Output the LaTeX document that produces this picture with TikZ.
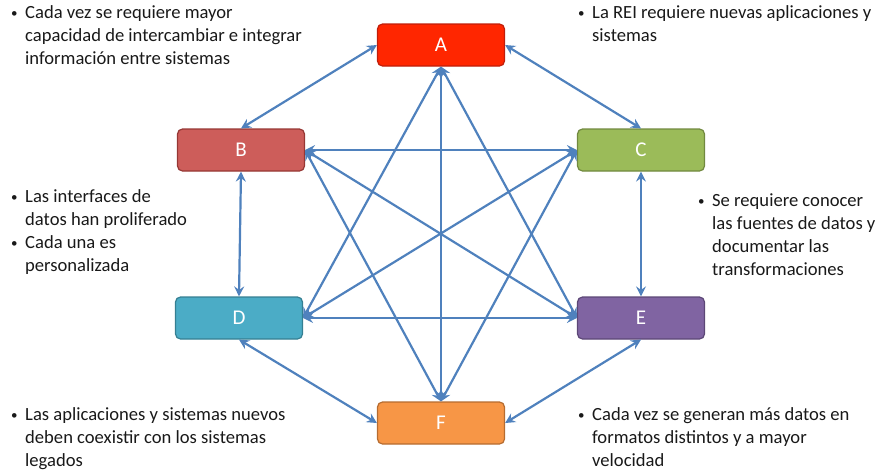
\documentclass[tikz,border=0pt]{standalone}
\usepackage{fontspec}
\setmainfont{Carlito}
\usetikzlibrary{arrows.meta}
\definecolor{lnk}{RGB}{79,129,189}
\definecolor{cA}{RGB}{255,38,0}\definecolor{bA}{RGB}{192,30,10}
\definecolor{cB}{RGB}{205,93,90}\definecolor{bB}{RGB}{150,55,52}
\definecolor{cC}{RGB}{155,187,89}\definecolor{bC}{RGB}{113,137,63}
\definecolor{cD}{RGB}{75,172,198}\definecolor{bD}{RGB}{53,127,146}
\definecolor{cE}{RGB}{128,100,162}\definecolor{bE}{RGB}{92,71,118}
\definecolor{cF}{RGB}{247,150,70}\definecolor{bF}{RGB}{182,108,48}
\newcommand{\bl}{\makebox[14pt][l]{\raisebox{1pt}{\fontsize{13}{13}\selectfont•}}}
\newcommand{\ct}{\hspace*{14pt}}
\begin{document}
\begin{tikzpicture}[x=1pt,y=-1pt,
  box/.style={draw=#1, line width=1.2pt, rounded corners=5pt, minimum width=127pt, minimum height=42pt, inner sep=0pt, text=white, font=\fontsize{21}{22}\selectfont},
  txt/.style={anchor=north west, align=left, inner sep=0pt, font=\fontsize{18.6}{23}\selectfont, text=black!90},
  lk/.style={draw=lnk, line width=2.2pt, {Stealth[length=10pt,width=10pt,inset=3.5pt]}-{Stealth[length=10pt,width=10pt,inset=3.5pt]}}]
\useasboundingbox (0,0) rectangle (881,475);
\node[box=bA, fill=cA] (A) at (441,45) {A};
\node[box=bB, fill=cB] (B) at (241,150) {B};
\node[box=bC, fill=cC] (C) at (641,150) {C};
\node[box=bD, fill=cD] (D) at (239,318) {D};
\node[box=bE, fill=cE] (E) at (641,318) {E};
\node[box=bF, fill=cF] (F) at (441,423) {F};
% connectors
\draw[lk] (B.north) -- (A.west);
\draw[lk] (A.east) -- (C.north);
\draw[lk] (B.south) -- (D.north);
\draw[lk] (C.south) -- (E.north);
\draw[lk] (D.south) -- (F.west);
\draw[lk] (E.south) -- (F.east);
\draw[lk] (B.east) -- (C.west);
\draw[lk] (D.east) -- (E.west);
\draw[lk] (A.south) -- (F.north);
\draw[lk] (A.south) -- (D.east);
\draw[lk] (A.south) -- (E.west);
\draw[lk] (B.east) -- (E.west);
\draw[lk] (C.west) -- (D.east);
\draw[lk] (B.east) -- (F.north);
\draw[lk] (C.west) -- (F.north);
% texts
\node[txt] (t1) at (11,5) {\bl Cada vez se requiere mayor\\\ct capacidad de intercambiar e integrar\\\ct información entre sistemas};
\node[txt] (t2) at (578,5) {\bl La REI requiere nuevas aplicaciones y\\\ct sistemas};
\node[txt] (t3) at (11,189) {\bl Las interfaces de\\\ct datos han proliferado\\\bl Cada una es\\\ct personalizada};
\node[txt] (t4) at (698,193) {\bl Se requiere conocer\\\ct las fuentes de datos y\\\ct documentar las\\\ct transformaciones};
\node[txt] (t5) at (11,407) {\bl Las aplicaciones y sistemas nuevos\\\ct deben coexistir con los sistemas\\\ct legados};
\node[txt] (t6) at (578,407) {\bl Cada vez se generan más datos en\\\ct formatos distintos y a mayor\\\ct velocidad};
\end{tikzpicture}
\end{document}
